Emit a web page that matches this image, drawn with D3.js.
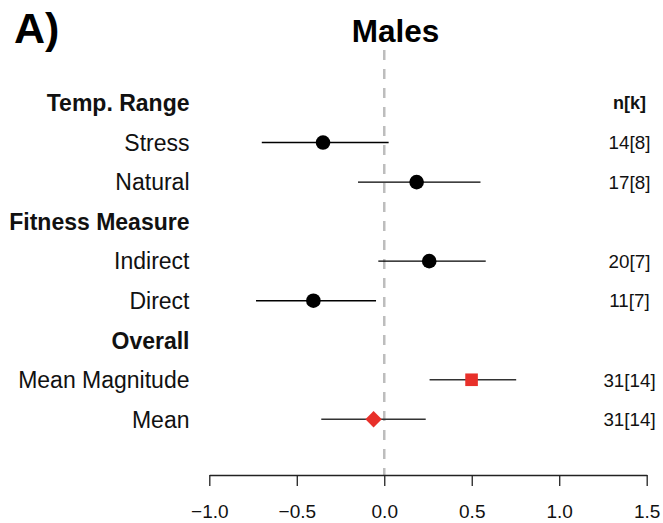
<!DOCTYPE html>
<html>
<head>
<meta charset="utf-8">
<script src="https://cdn.jsdelivr.net/npm/d3@7"></script>
<style>
html,body{margin:0;padding:0;background:#fff;}
svg{display:block;font-family:"Liberation Sans",Arial,Helvetica,sans-serif;}
</style>
</head>
<body>
<svg id="chart" width="663" height="523"></svg>
<script>
// ---- data ----
const rowLabels = ["Temp. Range","Stress","Natural","Fitness Measure","Indirect","Direct","Overall","Mean Magnitude","Mean"];
const headerRows = ["Temp. Range","Fitness Measure","Overall"];
const categories = ["Stress","Natural","Indirect","Direct","Mean Magnitude","Mean"];
const estimates = [-0.35, 0.185, 0.257, -0.405, 0.499, -0.061];
const lowerCI   = [-0.70, -0.15, -0.034, -0.733, 0.259, -0.36];
const upperCI   = [0.025, 0.55, 0.58, -0.047, 0.754, 0.237];
const nkLabels  = ["14[8]","17[8]","20[7]","11[7]","31[14]","31[14]"];
const markerTypes = ["circle","circle","circle","circle","square","diamond"];
const xTicks = [-1.0,-0.5,0.0,0.5,1.0,1.5];

const svg = d3.select("#chart");
const x = d3.scaleLinear().domain([-1,1.5]).range([209.3,646.7]);
const y = d3.scalePoint().domain(rowLabels).range([103,419.3]);
const axisY = 475;
const red = "#e8302a";

// title texts
svg.append("text").attr("x",14).attr("y",43).attr("font-size",43).attr("font-weight","bold").text("A)");
svg.append("text").attr("x",395.5).attr("y",42).attr("text-anchor","middle").attr("font-size",31.5).attr("font-weight","bold").text("Males");

// zero reference line
svg.append("line").attr("x1",x(0)).attr("x2",x(0)).attr("y1",50).attr("y2",axisY)
  .attr("stroke","#bdbdbd").attr("stroke-width",2.5).attr("stroke-dasharray","10,9");

// axis
const axis = d3.axisBottom(x).tickValues(xTicks).tickFormat(d3.format(".1f")).tickSizeInner(11).tickSizeOuter(0).tickPadding(18.5);
const ag = svg.append("g").attr("transform",`translate(0,${axisY})`).call(axis);
ag.select(".domain").attr("stroke","#222").attr("stroke-width",1.3);
ag.selectAll(".tick line").attr("stroke","#222").attr("stroke-width",1.3);
ag.selectAll(".tick text").attr("font-size",19).attr("fill","#111").attr("font-family","Liberation Sans, Arial, sans-serif");

// row labels
svg.selectAll("text.rowlab").data(rowLabels).join("text")
  .attr("class","rowlab")
  .attr("x",189.5)
  .attr("y",d=>y(d))
  .attr("dy","0.36em")
  .attr("text-anchor","end")
  .attr("font-size",23)
  .attr("font-weight",d=>headerRows.includes(d)?"bold":"normal")
  .attr("fill","#111")
  .text(d=>d);

// n[k] header
svg.append("text").attr("x",629.5).attr("y",y("Temp. Range")).attr("dy","0.36em").attr("text-anchor","middle")
  .attr("font-size",18).attr("font-weight","bold").attr("fill","#111").text("n[k]");

const rows = categories.map((c,i)=>({c, est:estimates[i], lo:lowerCI[i], hi:upperCI[i], nk:nkLabels[i], m:markerTypes[i]}));

// CI lines
svg.selectAll("line.ci").data(rows).join("line").attr("class","ci")
  .attr("x1",d=>x(d.lo)).attr("x2",d=>x(d.hi))
  .attr("y1",d=>y(d.c)).attr("y2",d=>y(d.c))
  .attr("stroke",d=>d.m==="circle"?"#000":"#333").attr("stroke-width",1.4);

// markers
rows.forEach(d=>{
  const cx=x(d.est), cy=y(d.c);
  if(d.m==="circle"){
    svg.append("circle").attr("cx",cx).attr("cy",cy).attr("r",7.3).attr("fill","#000");
  } else if(d.m==="square"){
    svg.append("rect").attr("x",cx-6.3).attr("y",cy-6.3).attr("width",12.6).attr("height",12.6).attr("fill",red);
  } else {
    const s=8.2;
    svg.append("path").attr("d",`M${cx},${cy-s}L${cx+s},${cy}L${cx},${cy+s}L${cx-s},${cy}Z`).attr("fill",red);
  }
});

// n[k] values
svg.selectAll("text.nk").data(rows).join("text").attr("class","nk")
  .attr("x",629.5).attr("y",d=>y(d.c)).attr("dy","0.36em").attr("text-anchor","middle")
  .attr("font-size",18.8).attr("fill","#111").text(d=>d.nk);
</script>
</body>
</html>
